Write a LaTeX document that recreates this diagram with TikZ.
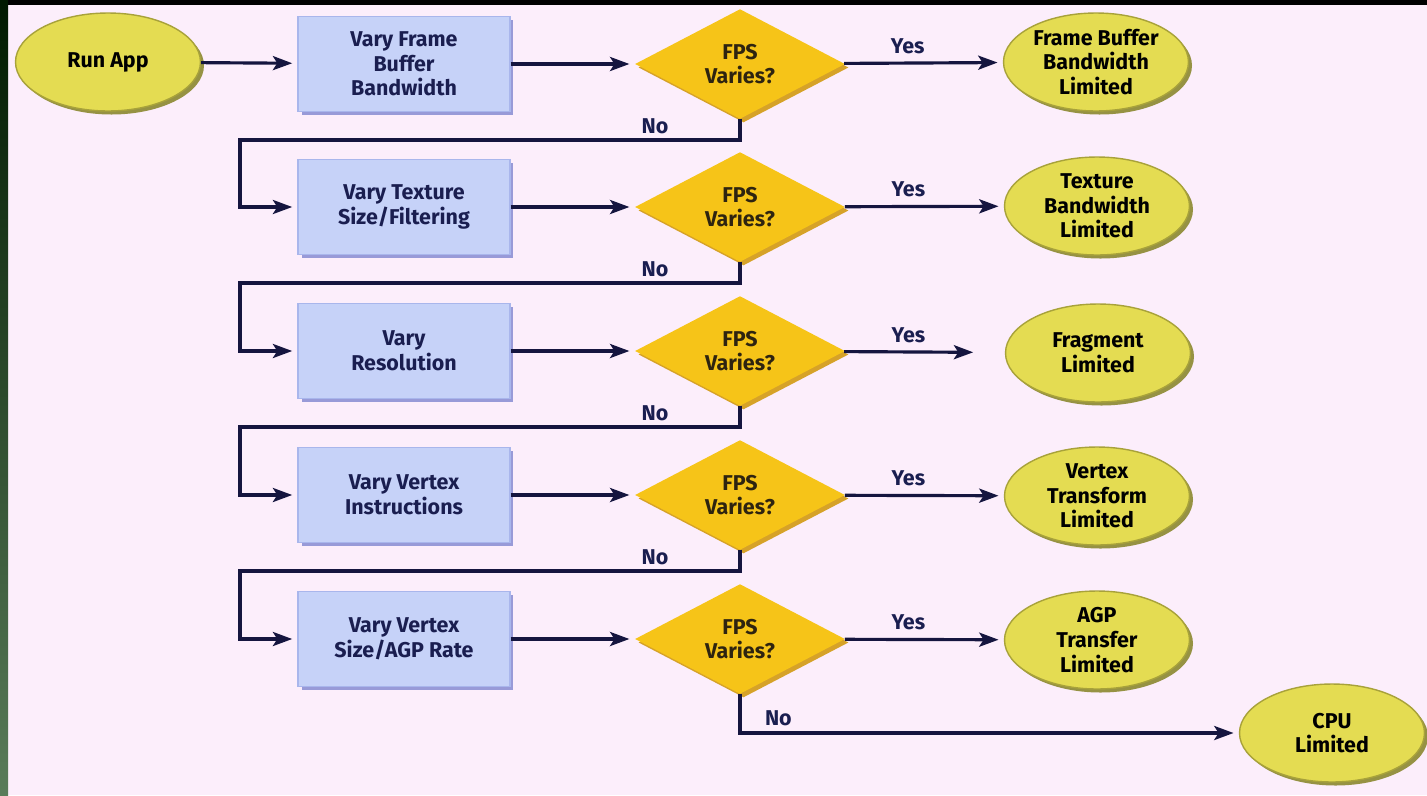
\documentclass[tikz,border=0pt]{standalone}
\usepackage{fontspec}
\setmainfont{Fira Sans}
\usetikzlibrary{shapes.geometric,shadows,arrows.meta}

\definecolor{bgpink}{HTML}{FCEEFB}
\definecolor{boxblue}{HTML}{C6D2F8}
\definecolor{boxedge}{HTML}{A9B6EC}
\definecolor{boxshadow}{HTML}{7F86D0}
\definecolor{endyellow}{HTML}{E4DC52}
\definecolor{endedge}{HTML}{A8A23A}
\definecolor{endshadow}{HTML}{8C8830}
\definecolor{testgold}{HTML}{F6C418}
\definecolor{testshadow}{HTML}{D29A12}
\definecolor{linenavy}{HTML}{15153F}
\definecolor{textnavy}{HTML}{1A1E50}
\definecolor{textbrown}{HTML}{2E2410}

\tikzset{
  stepbox/.style={rectangle, fill=boxblue, draw=boxedge, line width=0.6pt,
    minimum width=4.24cm, minimum height=1.9cm, align=center, text=textnavy,
    drop shadow={shadow xshift=2pt, shadow yshift=-2pt, fill=boxshadow, opacity=0.8}},
  endpoint/.style={ellipse, fill=endyellow, draw=endedge, line width=0.8pt,
    minimum width=3.7cm, minimum height=1.96cm, inner sep=0pt, align=center, text=black,
    drop shadow={shadow xshift=2pt, shadow yshift=-2pt, fill=endshadow, opacity=0.9}},
  test/.style={diamond, fill=testgold, minimum width=4.2cm, minimum height=2cm,
    inner sep=0pt, align=center, text=textbrown,
    drop shadow={shadow xshift=2pt, shadow yshift=-2pt, fill=testshadow, opacity=0.9}},
  flow/.style={-{Stealth[length=11pt,width=8pt,inset=2.5pt]}, line width=1.8pt,
    draw=linenavy, shorten >=3pt},
  lab/.style={text=textnavy}
}

\begin{document}
\begin{tikzpicture}[x=0.02cm, y=-0.02cm, font=\bfseries\fontsize{12.2}{14}\selectfont]
  \useasboundingbox (0,0) rectangle (1427,795);
  % 背景
  \fill[bgpink] (0,0) rectangle (1427,795);
  \fill[black] (0,0) rectangle (1427,5);
  \shade[top color=black!90!green, bottom color=black!55!green!30!gray] (0,0) rectangle (8,795);
  % 起点
  \node[endpoint] (run) at (108,62) {Run App};
  % 各项测试（方框）
  \node[stepbox] (vary1) at (404,64) {Vary Frame\\Buffer\\Bandwidth};
  \node[stepbox] (vary2) at (404,207) {Vary Texture\\Size/Filtering};
  \node[stepbox] (vary3) at (404,351) {Vary\\Resolution};
  \node[stepbox] (vary4) at (404,495) {Vary Vertex\\Instructions};
  \node[stepbox] (vary5) at (404,639) {Vary Vertex\\Size/AGP Rate};
  % 判断（菱形）
  \foreach \i/\y in {1/64,2/207,3/351,4/495,5/639}{
    \node[test] (fps\i) at (740,\y) {FPS\\Varies?};
    \coordinate (turn\i) at (240,\y+76);
  }
  % 结论（椭圆）
  \node[endpoint] (res1) at (1096,62) {Frame Buffer\\Bandwidth\\Limited};
  \node[endpoint] (res2) at (1097,206) {Texture\\Bandwidth\\Limited};
  \node[endpoint] (res3) at (1098,353) {Fragment\\Limited};
  \node[endpoint] (res4) at (1097,496) {Vertex\\Transform\\Limited};
  \node[endpoint] (res5) at (1097,640) {AGP\\Transfer\\Limited};
  \node[endpoint] (cpu) at (1332,733) {CPU\\Limited};
  % 连线
  \draw[flow] (run) -- (vary1);
  \foreach \i/\s in {1/3pt,2/3pt,3/18pt,4/3pt,5/3pt}{
    \draw[flow] (vary\i) -- (fps\i);
    \draw[flow, shorten >=\s] (fps\i) -- node[lab, above=1pt, pos=0.4]{Yes} (res\i);
  }
  \foreach \i/\j in {1/2,2/3,3/4,4/5}{
    \draw[flow] (fps\i.south) |- node[lab, above=-1pt, pos=0.585]{No} (turn\i) |- (vary\j.west);
  }
  \draw[flow] (fps5.south) |- node[lab, above right, xshift=10pt, pos=0.5]{No} (cpu);
\end{tikzpicture}
\end{document}
